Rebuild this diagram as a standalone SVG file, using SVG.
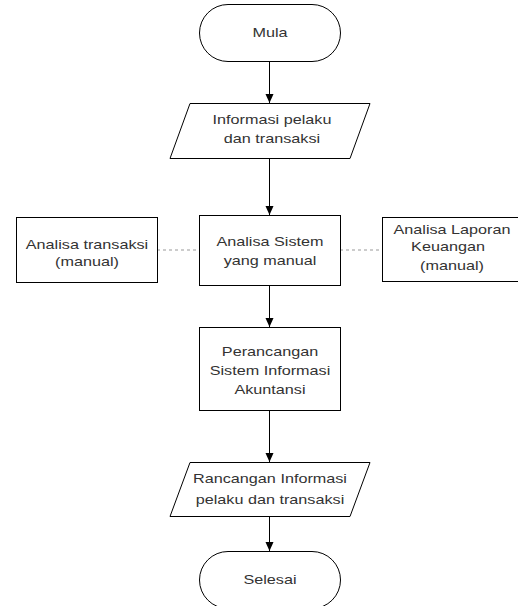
<svg xmlns="http://www.w3.org/2000/svg" width="518" height="606" viewBox="0 0 518 606">
<defs>
<style>
.shape{fill:#fff;stroke:#000;stroke-width:1}
.t{font-family:"Liberation Sans",Arial,sans-serif;font-size:12px;fill:#333;text-anchor:middle}
.edge{stroke:#000;stroke-width:1;fill:none}
.dash{stroke:#999;stroke-width:1;stroke-dasharray:3,3;fill:none}
</style>
<marker id="arr" markerWidth="10" markerHeight="10" refX="9" refY="5" orient="auto" markerUnits="userSpaceOnUse">
<path d="M0,1 L9,5 L0,9 Z" fill="#000"/>
</marker>
</defs>
<rect width="518" height="606" fill="#fff"/>
<g id="connectors">
<line class="edge" x1="269.5" y1="61" x2="269.5" y2="103" marker-end="url(#arr)"/>
<line class="edge" x1="269.5" y1="158" x2="269.5" y2="215" marker-end="url(#arr)"/>
<line class="edge" x1="269.5" y1="285" x2="269.5" y2="327" marker-end="url(#arr)"/>
<line class="edge" x1="269.5" y1="410" x2="269.5" y2="462" marker-end="url(#arr)"/>
<line class="edge" x1="269.5" y1="516" x2="269.5" y2="551" marker-end="url(#arr)"/>
<line class="dash" x1="157" y1="250" x2="199" y2="250"/>
<line class="dash" x1="340" y1="250" x2="382" y2="250"/>
</g>
<g id="mula">
<rect class="shape" x="199.5" y="4.5" width="141" height="57" rx="28.5"/>
<text class="t" transform="translate(270 37) scale(1.35 1)">Mula</text>
</g>
<g id="informasi">
<polygon class="shape" points="190,103.5 370,103.5 350,158.5 170,158.5"/>
<text class="t" transform="translate(272 124) scale(1.35 1)">Informasi pelaku</text>
<text class="t" transform="translate(272 143) scale(1.35 1)">dan transaksi</text>
</g>
<g id="analisa-transaksi">
<rect class="shape" x="16.5" y="217.5" width="141" height="65"/>
<text class="t" transform="translate(87 249) scale(1.35 1)">Analisa transaksi</text>
<text class="t" transform="translate(87 266) scale(1.35 1)">(manual)</text>
</g>
<g id="analisa-sistem">
<rect class="shape" x="199.5" y="215.5" width="141" height="70"/>
<text class="t" transform="translate(270 246) scale(1.35 1)">Analisa Sistem</text>
<text class="t" transform="translate(270 265) scale(1.35 1)">yang manual</text>
</g>
<g id="analisa-laporan">
<rect class="shape" x="382.5" y="217.5" width="141" height="64"/>
<text class="t" transform="translate(452 234) scale(1.35 1)">Analisa Laporan</text>
<text class="t" transform="translate(448 251) scale(1.35 1)">Keuangan</text>
<text class="t" transform="translate(452 270) scale(1.35 1)">(manual)</text>
</g>
<g id="perancangan">
<rect class="shape" x="199.5" y="327.5" width="141" height="83"/>
<text class="t" transform="translate(270 356) scale(1.35 1)">Perancangan</text>
<text class="t" transform="translate(270 375) scale(1.35 1)">Sistem Informasi</text>
<text class="t" transform="translate(270 394) scale(1.35 1)">Akuntansi</text>
</g>
<g id="rancangan">
<polygon class="shape" points="190,462.5 370,462.5 350,516.5 170,516.5"/>
<text class="t" transform="translate(270 483) scale(1.35 1)">Rancangan Informasi</text>
<text class="t" transform="translate(270 504) scale(1.35 1)">pelaku dan transaksi</text>
</g>
<g id="selesai">
<rect class="shape" x="199.5" y="551.5" width="141" height="57" rx="28.5"/>
<text class="t" transform="translate(270 584) scale(1.35 1)">Selesai</text>
</g>
</svg>
